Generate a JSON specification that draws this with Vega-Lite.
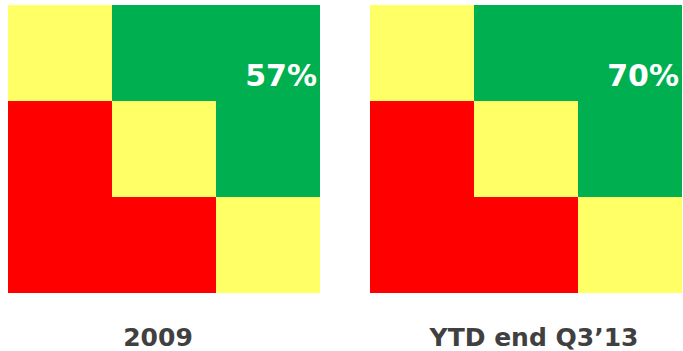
{
  "$schema": "https://vega.github.io/schema/vega-lite/v6.json",
  "padding": {"left": 8, "top": 5, "right": 0, "bottom": 0},
  "spacing": 50,
  "config": {"view": {"stroke": null}, "font": "DejaVu Sans"},
  "datasets": {
    "cells": [
      {"panel": "2009", "row": 0, "col": 0, "status": "yellow"},
      {"panel": "2009", "row": 0, "col": 1, "status": "green"},
      {"panel": "2009", "row": 0, "col": 2, "status": "green"},
      {"panel": "2009", "row": 1, "col": 0, "status": "red"},
      {"panel": "2009", "row": 1, "col": 1, "status": "yellow"},
      {"panel": "2009", "row": 1, "col": 2, "status": "green"},
      {"panel": "2009", "row": 2, "col": 0, "status": "red"},
      {"panel": "2009", "row": 2, "col": 1, "status": "red"},
      {"panel": "2009", "row": 2, "col": 2, "status": "yellow"},
      {"panel": "YTD", "row": 0, "col": 0, "status": "yellow"},
      {"panel": "YTD", "row": 0, "col": 1, "status": "green"},
      {"panel": "YTD", "row": 0, "col": 2, "status": "green"},
      {"panel": "YTD", "row": 1, "col": 0, "status": "red"},
      {"panel": "YTD", "row": 1, "col": 1, "status": "yellow"},
      {"panel": "YTD", "row": 1, "col": 2, "status": "green"},
      {"panel": "YTD", "row": 2, "col": 0, "status": "red"},
      {"panel": "YTD", "row": 2, "col": 1, "status": "red"},
      {"panel": "YTD", "row": 2, "col": 2, "status": "yellow"}
    ],
    "pcts": [
      {"panel": "2009", "row": 0, "col": 2, "pct": "57%"},
      {"panel": "YTD", "row": 0, "col": 2, "pct": "70%"}
    ]
  },
  "hconcat": [
    {
      "width": 312,
      "height": 288,
      "title": {"text": "2009", "orient": "bottom", "font": "DejaVu Sans", "fontSize": 25, "fontWeight": "bold", "color": "#404040", "offset": 33, "dx": -6},
      "layer": [
        {
          "data": {"name": "cells"},
          "transform": [{"filter": "datum.panel === '2009'"}],
          "mark": {"type": "rect"},
          "encoding": {
            "x": {"field": "col", "type": "ordinal", "axis": null, "scale": {"paddingInner": 0, "paddingOuter": 0}},
            "y": {"field": "row", "type": "ordinal", "axis": null, "scale": {"paddingInner": 0, "paddingOuter": 0}},
            "color": {"field": "status", "type": "nominal", "legend": null, "scale": {"domain": ["yellow", "green", "red"], "range": ["#FFFF66", "#00B050", "#FF0000"]}}
          }
        },
        {
          "data": {"name": "pcts"},
          "transform": [{"filter": "datum.panel === '2009'"}],
          "mark": {"type": "text", "align": "right", "baseline": "alphabetic", "font": "DejaVu Sans", "fontSize": 30, "fontWeight": "bold", "color": "white", "dx": -3},
          "encoding": {
            "x": {"field": "col", "type": "ordinal", "bandPosition": 1, "axis": null},
            "y": {"field": "row", "type": "ordinal", "bandPosition": 0.84, "axis": null},
            "text": {"field": "pct"}
          }
        }
      ]
    },
    {
      "width": 312,
      "height": 288,
      "title": {"text": "YTD end Q3’13", "orient": "bottom", "font": "DejaVu Sans", "fontSize": 25, "fontWeight": "bold", "color": "#404040", "offset": 33, "dx": 8},
      "layer": [
        {
          "data": {"name": "cells"},
          "transform": [{"filter": "datum.panel === 'YTD'"}],
          "mark": {"type": "rect"},
          "encoding": {
            "x": {"field": "col", "type": "ordinal", "axis": null, "scale": {"paddingInner": 0, "paddingOuter": 0}},
            "y": {"field": "row", "type": "ordinal", "axis": null, "scale": {"paddingInner": 0, "paddingOuter": 0}},
            "color": {"field": "status", "type": "nominal", "legend": null, "scale": {"domain": ["yellow", "green", "red"], "range": ["#FFFF66", "#00B050", "#FF0000"]}}
          }
        },
        {
          "data": {"name": "pcts"},
          "transform": [{"filter": "datum.panel === 'YTD'"}],
          "mark": {"type": "text", "align": "right", "baseline": "alphabetic", "font": "DejaVu Sans", "fontSize": 30, "fontWeight": "bold", "color": "white", "dx": -3},
          "encoding": {
            "x": {"field": "col", "type": "ordinal", "bandPosition": 1, "axis": null},
            "y": {"field": "row", "type": "ordinal", "bandPosition": 0.84, "axis": null},
            "text": {"field": "pct"}
          }
        }
      ]
    }
  ]
}
